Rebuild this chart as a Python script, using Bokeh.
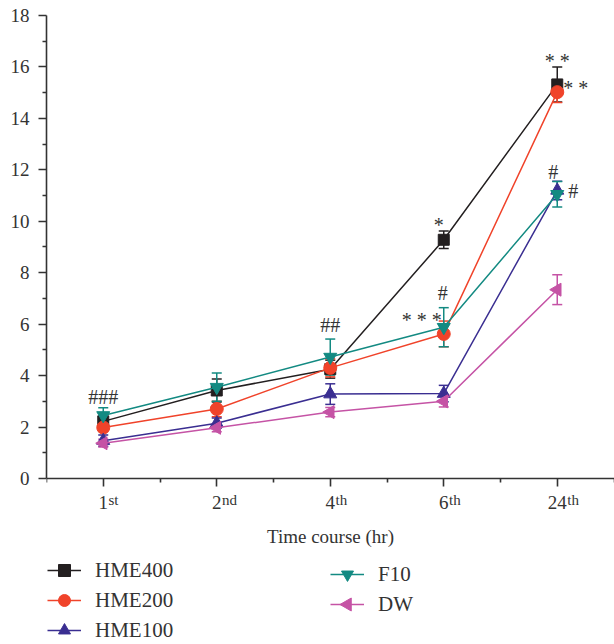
from bokeh.plotting import figure
from bokeh.models import (Range1d, FixedTicker, ColumnDataSource, Whisker, TeeHead,
                          Legend, LegendItem, LabelSet)
from bokeh.embed import file_html
from bokeh.resources import INLINE
import math

# ---- data ----
categories = [1, 2, 3, 4, 5]
tick_numbers = ["1", "2", "4", "6", "24"]
tick_suffixes = ["st", "nd", "th", "th", "th"]

hme400 = [2.22, 3.42, 4.25, 9.28, 15.32]
hme200 = [1.98, 2.70, 4.30, 5.62, 15.02]
hme100 = [1.47, 2.15, 3.28, 3.30, 11.20]
f10 = [2.45, 3.55, 4.72, 5.88, 11.05]
dw = [1.37, 1.97, 2.58, 3.00, 7.34]

hme400_err = [0.20, 0.45, 0.35, 0.34, 0.68]
hme200_err = [0.15, 0.30, 0.35, 0.50, 0.40]
hme100_err = [0.22, 0.20, 0.40, 0.32, 0.36]
f10_err = [0.30, 0.55, 0.70, 0.76, 0.50]
dw_err = [0.15, 0.15, 0.18, 0.22, 0.58]

series_names = ["HME400", "HME200", "HME100", "F10", "DW"]

annot_text = ["###", "##", "*", "#", "* * *", "* *", "* *", "#", "#"]
annot_cat = [1, 3, 4, 4, 4, 5, 5, 5, 5]
annot_y = [3.15, 5.95, 9.85, 7.20, 6.15, 16.25, 15.20, 11.90, 11.17]

# ---- styles ----
FONT = "Liberation Serif"
TXT = "#333333"
colors = ["#231f20", "#f0432a", "#3a2e91", "#138a82", "#c553a5"]
markers = ["square", "circle", "triangle", "inverted_triangle", "triangle"]
angles = [0, 0, 0, 0, math.pi / 2]
sizes = [11, 13, 13, 13, 13]
annot_align = ["center", "center", "center", "center", "right", "center", "left", "center", "left"]
annot_dx = [0, 0, -5, -1, -2, 0, 6, -4, 11]

PX_PER_CAT = 113.5
PX_PER_UNIT = 25.72
FRAME_W, FRAME_H = 568, 629
x_lo = 0.5
y_hi = 18
y_lo = y_hi - FRAME_H / PX_PER_UNIT
p = figure(width=614, height=644,
           min_border_left=46, min_border_right=0, min_border_top=15, min_border_bottom=0,
           x_range=Range1d(x_lo, x_lo + FRAME_W / PX_PER_CAT),
           y_range=Range1d(y_lo, y_hi),
           output_backend="svg", toolbar_location=None)
p.outline_line_color = None
p.xgrid.visible = False
p.ygrid.visible = False

# axes
p.yaxis.bounds = (0, 18)
p.yaxis.ticker = FixedTicker(ticks=list(range(0, 19, 2)), minor_ticks=list(range(1, 19, 2)))
p.xaxis.fixed_location = 0
p.xaxis.ticker = FixedTicker(ticks=categories, minor_ticks=[0.5, 1.5, 2.5, 3.5, 4.5, 5.5])
p.xaxis.major_label_overrides = {c: n for c, n in zip(categories, tick_numbers)}
for ax in (p.xaxis[0], p.yaxis[0]):
    ax.axis_line_color = "#333333"
    ax.axis_line_width = 1.6
    ax.major_tick_line_color = "#333333"
    ax.major_tick_line_width = 1.6
    ax.minor_tick_line_color = "#333333"
    ax.minor_tick_line_width = 1.6
    ax.major_tick_in = 0
    ax.major_tick_out = 8
    ax.minor_tick_in = 0
    ax.minor_tick_out = 4
    ax.major_label_text_font = FONT
    ax.major_label_text_font_size = "19px"
    ax.major_label_text_color = TXT
p.yaxis.major_label_standoff = 9
p.xaxis.major_label_standoff = 10
p.xaxis.axis_label = "Time course (hr)"
p.xaxis.axis_label_text_font = FONT
p.xaxis.axis_label_text_font_style = "normal"
p.xaxis.axis_label_text_font_size = "19px"
p.xaxis.axis_label_text_color = TXT
p.xaxis.axis_label_standoff = 13

# superscript suffixes of the x tick labels
suf_dx = [len(n) * 4.75 + 0.5 for n in tick_numbers]
tick_src = ColumnDataSource(dict(x=categories, y=[0] * len(categories),
                                 suf=tick_suffixes, dx=suf_dx))
p.add_layout(LabelSet(x="x", y="y", text="suf", source=tick_src, x_offset="dx", y_offset=-27,
                      text_align="left", text_baseline="alphabetic", text_font=FONT,
                      text_font_size="15px", text_color=TXT))

values = [hme400, hme200, hme100, f10, dw]
errors = [hme400_err, hme200_err, hme100_err, f10_err, dw_err]
items = []
for name, vals, errs, c, m, a, s in zip(series_names, values, errors, colors, markers, angles, sizes):
    src = ColumnDataSource(dict(x=categories, y=vals,
                                up=[v + e for v, e in zip(vals, errs)],
                                lo=[v - e for v, e in zip(vals, errs)]))
    ln = p.line("x", "y", source=src, line_color=c, line_width=1.5)
    sc = p.scatter("x", "y", source=src, marker=m, angle=a, size=s,
                   fill_color=c, line_color=c)
    w = Whisker(base="x", upper="up", lower="lo", source=src, dimension="height",
                line_color=c, line_width=1.5,
                upper_head=TeeHead(size=10, line_color=c, line_width=1.5),
                lower_head=TeeHead(size=10, line_color=c, line_width=1.5))
    p.add_layout(w)
    # legend swatches ignore marker rotation, so the rotated DW marker gets its own swatch
    items.append(LegendItem(label=name, renderers=[ln] if a else [ln, sc]))

# significance annotations
ann_src = ColumnDataSource(dict(x=annot_cat, y=annot_y, t=annot_text,
                                align=annot_align, dx=annot_dx))
p.add_layout(LabelSet(x="x", y="y", text="t", source=ann_src, x_offset="dx",
                      text_align="align", text_baseline="middle", text_font=FONT,
                      text_font_size="20px", text_color=TXT))

GLYPH_W, GLYPH_H = 34, 30
LEG1_LOC = (1, -1)
LEG2_LOC = (284, 25)

def make_legend(its, loc):
    return Legend(items=its, location=loc, orientation="vertical",
                  glyph_width=GLYPH_W, glyph_height=GLYPH_H, label_height=20, label_standoff=14,
                  spacing=-3, padding=0, margin=0, border_line_color=None,
                  background_fill_alpha=0,
                  label_text_font=FONT, label_text_font_size="21px", label_text_color=TXT)

p.add_layout(make_legend(items[:3], LEG1_LOC), "center")
p.add_layout(make_legend(items[3:], LEG2_LOC), "center")

# rotated swatch for the DW legend entry (last row of the second legend)
sw_x = x_lo + (LEG2_LOC[0] + GLYPH_W / 2) / PX_PER_CAT
sw_y = y_lo + (LEG2_LOC[1] + GLYPH_H / 2) / PX_PER_UNIT
p.scatter([sw_x], [sw_y], marker="triangle", angle=math.pi / 2, size=13,
          fill_color=colors[4], line_color=colors[4], level="overlay")

open("out.html", "w").write(file_html(p, INLINE))
